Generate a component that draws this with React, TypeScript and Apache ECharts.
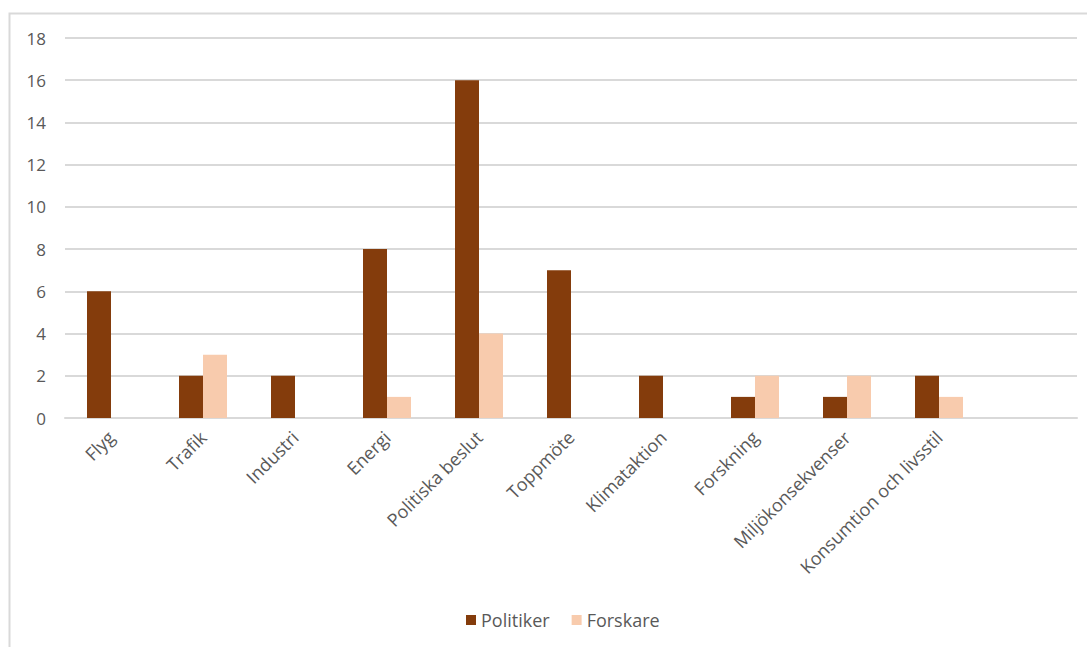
import React, { useEffect, useRef } from "react";
import * as echarts from "echarts";

const categories = [
  "Flyg",
  "Trafik",
  "Industri",
  "Energi",
  "Politiska beslut",
  "Toppmöte",
  "Klimataktion",
  "Forskning",
  "Miljökonsekvenser",
  "Konsumtion och livsstil",
  "",
];
const politiker = [6, 2, 2, 8, 16, 7, 2, 1, 1, 2, null];
const forskare = [null, 3, null, 1, 4, null, null, 2, 2, 1, null];

const FONT = "'Open Sans', 'Noto Sans', sans-serif";
const TEXT = "#595959";

export default function App() {
  const ref = useRef<HTMLDivElement>(null);

  useEffect(() => {
    if (!ref.current) return;
    const chart = echarts.init(ref.current, null, { renderer: "svg" });
    chart.setOption({
      animation: false,
      backgroundColor: "#ffffff",
      textStyle: { fontFamily: FONT },
      graphic: [
        {
          type: "rect",
          shape: { x: 9.5, y: 13.5, width: 1100, height: 700 },
          style: { fill: "none", stroke: "#d9d9d9", lineWidth: 2 },
          silent: true,
        },
      ],
      grid: { left: 65, right: 10, top: 38, bottom: 229, containLabel: false },
      legend: {
        bottom: 13,
        left: 461,
        itemWidth: 10,
        itemHeight: 10,
        itemGap: 22,
        icon: "rect",
        textStyle: { color: TEXT, fontSize: 18, fontFamily: FONT },
        data: ["Politiker", "Forskare"],
      },
      xAxis: {
        type: "category",
        data: categories,
        axisLine: { lineStyle: { color: "#d9d9d9", width: 2 } },
        axisTick: { show: false },
        axisLabel: {
          rotate: 45,
          interval: 0,
          color: TEXT,
          fontSize: 18,
          fontFamily: FONT,
          margin: 16,
        },
      },
      yAxis: {
        type: "value",
        min: 0,
        max: 18,
        interval: 2,
        axisLine: { show: false },
        axisTick: { show: false },
        axisLabel: { color: TEXT, fontSize: 17, fontFamily: FONT, margin: 19 },
        splitLine: { lineStyle: { color: "#d9d9d9", width: 2 } },
      },
      series: [
        {
          name: "Politiker",
          type: "bar",
          data: politiker,
          barWidth: 24,
          barGap: "0%",
          itemStyle: { color: "#843C0C" },
        },
        {
          name: "Forskare",
          type: "bar",
          data: forskare,
          barWidth: 24,
          barGap: "0%",
          itemStyle: { color: "#F8CBAD" },
        },
      ],
    });
    return () => chart.dispose();
  }, []);

  return (
    <div
      ref={ref}
      style={{ position: "fixed", left: 0, top: 0, width: 1087, height: 647 }}
    />
  );
}
